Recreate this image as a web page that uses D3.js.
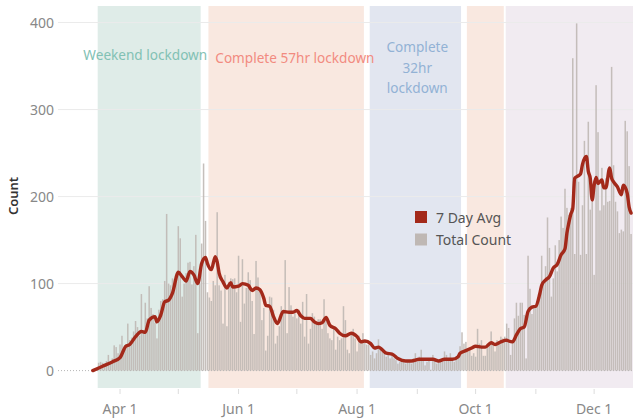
<!DOCTYPE html>
<html lang="en">
<head>
<meta charset="utf-8">
<title>Daily count</title>
<script src="https://cdn.jsdelivr.net/npm/d3@7"></script>
<style>
  body { margin: 0; background: #fff; }
  text { font-family: "Noto Sans", "Open Sans", sans-serif; }
</style>
</head>
<body>
<svg width="633" height="419"></svg>
<script>
// daily totals, first value is 2020-03-18
var firstDay = "2020-03-18";
var totalCount = [
  0,1,3,9,10,9,5,11,18,8,
  14,29,27,20,30,40,26,30,54,35,
  38,45,57,50,40,88,45,78,60,97,
  72,65,55,37,70,80,82,103,180,100,
  98,106,105,110,166,152,85,100,112,124,
  125,99,120,156,43,100,146,238,172,90,
  84,80,103,98,182,98,92,54,110,51,
  102,106,105,106,90,132,56,128,77,95,
  113,104,80,42,126,107,91,58,72,23,
  40,85,84,70,31,40,51,74,67,127,
  43,96,75,62,66,60,70,54,79,39,
  88,31,48,66,62,53,59,59,48,82,
  62,43,37,35,50,24,39,35,37,74,
  58,24,20,41,48,37,22,40,35,43,
  33,30,30,18,22,14,20,36,27,22,
  20,16,18,14,18,14,12,8,10,12,
  10,8,10,10,8,14,20,10,16,24,
  12,6,10,12,1,18,12,8,10,12,
  10,22,18,12,20,14,10,14,16,28,
  44,31,33,22,25,17,20,16,48,31,
  35,17,17,26,30,45,33,22,35,33,
  39,37,39,54,49,18,35,60,78,63,
  78,78,64,14,132,94,65,74,74,80,
  85,132,100,120,176,141,85,106,144,114,
  150,177,164,209,187,179,187,359,134,399,
  217,133,190,264,134,286,185,194,110,328,
  274,184,233,190,221,194,195,349,236,194,
  183,158,162,160,287,275,235,157
];

// 7 day average
var avgDates = [
  "3/18","3/23","3/28","4/1","4/4","4/6","4/9","4/12","4/14","4/16",
  "4/19","4/20","4/22","4/24","4/26","4/28","5/1","5/3","5/5","5/7",
  "5/9","5/11","5/13","5/15","5/16","5/18","5/20","5/21","5/22","5/24",
  "5/26","5/28","5/29","6/1","6/3","6/6","6/8","6/10","6/12","6/14",
  "6/15","6/17","6/19","6/21","6/24","6/27","6/29","7/1","7/3","7/5",
  "7/8","7/10","7/12","7/14","7/16","7/18","7/21","7/23","7/26","7/29",
  "8/1","8/3","8/5","8/8","8/10","8/12","8/16","8/19","8/22","8/26",
  "8/29","9/2","9/5","9/9","9/12","9/15","9/19","9/22","9/23","9/26",
  "9/29","10/1","10/4","10/6","10/9","10/11","10/14","10/17","10/18","10/20",
  "10/22","10/24","10/26","10/28","10/30","11/1","11/3","11/4","11/6","11/8",
  "11/10","11/12","11/14","11/16","11/17","11/18","11/19","11/20","11/21","11/23",
  "11/24","11/25","11/27","11/28","11/29","11/30","12/1","12/2","12/3","12/5",
  "12/6","12/7","12/9","12/10","12/11","12/13","12/15","12/16","12/18","12/19",
  "12/20"
];
var avgValues = [
  0,5,10,15,28,30,39,45,44,58,
  62,56,64,79,81,89,113,108,103,114,
  110,100,123,130,123,116,131,125,112,102,
  95,101,96,97,100,98,92,95,93,83,
  75,74,62,54,68,67,67,69,63,60,
  60,56,54,55,61,52,48,43,40,43,
  39,33,34,31,26,27,20,19,14,11,
  11,13,13,13,11,13,13,16,20,23,
  26,28,27,27,32,30,33,35,34,33,
  41,48,50,68,73,74,88,98,104,108,
  118,122,133,140,158,170,180,186,221,224,
  226,237,246,229,221,196,213,222,215,219,
  210,210,233,221,217,211,202,213,204,188,
  181
];

// shaded periods: first and last day, colours
var periods = [
  {from: "3/21", to: "5/12", fill: "#dfece8"},
  {from: "5/17", to: "8/4", fill: "#f9e8e0"},
  {from: "8/8", to: "9/23", fill: "#e2e6f0"},
  {from: "9/27", to: "10/15", fill: "#f9e8e0"},
  {from: "10/17", to: "12/22", fill: "#f1ebf1"}
];
var periodLabels = [
  {lines: ["Weekend lockdown"], color: "#82c1b4", at: "4/14", y: 60},
  {lines: ["Complete 57hr lockdown"], color: "#f28b80", at: "6/30", y: 63},
  {lines: ["Complete", "32hr", "lockdown"], color: "#92b2d5", at: "9/1", y: 52}
];
var yTicks = [0, 100, 200, 300, 400];
var xLabelTicks = ["4/1", "6/1", "8/1", "10/1", "12/1"];

var parse = d3.utcParse("%Y/%m/%d");
function md(s) { return parse("2020/" + s); }

var svg = d3.select("svg");
var x = d3.scaleUtc()
    .domain([new Date(Date.UTC(2020, 1, 29, 2)), new Date(Date.UTC(2020, 11, 21))])
    .range([58, 633]);
var y = d3.scaleLinear().domain([-20, 419]).range([388, 6]);
var halfDay = 12 * 3600 * 1000;

var start = parse(firstDay.replace(/-/g, "/"));
var bars = totalCount.map(function(v, i) {
  return {date: d3.utcDay.offset(start, i), value: v};
});
var avg = avgDates.map(function(s, i) { return {date: md(s), value: avgValues[i]}; });

// background periods
svg.append("g").selectAll("rect")
  .data(periods)
  .enter().append("rect")
  .attr("x", function(d) { return x(new Date(+md(d.from) - halfDay)); })
  .attr("width", function(d) { return x(new Date(+md(d.to) + halfDay)) - x(new Date(+md(d.from) - halfDay)); })
  .attr("y", 6)
  .attr("height", 382)
  .attr("fill", function(d) { return d.fill; });

// gridlines
svg.append("g").selectAll("line")
  .data(yTicks.filter(function(t) { return t > 0; }))
  .enter().append("line")
  .attr("x1", 58).attr("x2", 633)
  .attr("y1", function(d) { return y(d); })
  .attr("y2", function(d) { return y(d); })
  .attr("stroke", "#ebebeb")
  .attr("stroke-width", 1);

svg.append("line")
  .attr("x1", 58).attr("x2", 633)
  .attr("y1", y(0)).attr("y2", y(0))
  .attr("stroke", "#b5b5b5")
  .attr("stroke-dasharray", "1,2");

// labels for periods
periodLabels.forEach(function(p) {
  var t = svg.append("text")
    .attr("x", x(md(p.at)))
    .attr("y", p.y)
    .attr("text-anchor", "middle")
    .attr("font-size", "13.6px")
    .attr("fill", p.color);
  p.lines.forEach(function(line, i) {
    t.append("tspan").attr("x", x(md(p.at))).attr("dy", i ? 20.7 : 0).text(line);
  });
});

// daily bars
svg.append("g").selectAll("rect")
  .data(bars)
  .enter().append("rect")
  .attr("x", function(d) { return x(d.date) - 0.75; })
  .attr("width", 1.5)
  .attr("y", function(d) { return y(d.value); })
  .attr("height", function(d) { return y(0) - y(d.value); })
  .attr("fill", "#bfb8b4")
  .attr("opacity", 0.9);

// 7 day avg line
svg.append("path")
  .datum(avg)
  .attr("fill", "none")
  .attr("stroke", "#a3291a")
  .attr("stroke-width", 3.4)
  .attr("stroke-linejoin", "round")
  .attr("stroke-linecap", "round")
  .attr("d", d3.line()
    .curve(d3.curveMonotoneX)
    .x(function(d) { return x(d.date); })
    .y(function(d) { return y(d.value); }));

// y axis
svg.append("g").selectAll("text")
  .data(yTicks)
  .enter().append("text")
  .attr("x", 54)
  .attr("y", function(d) { return y(d) + 5; })
  .attr("text-anchor", "end")
  .attr("font-size", "14px")
  .attr("fill", "#888")
  .text(function(d) { return d; });

svg.append("text")
  .attr("transform", "translate(18,196) rotate(-90)")
  .attr("text-anchor", "middle")
  .attr("font-size", "13px")
  .attr("font-weight", 600)
  .attr("fill", "#333")
  .text("Count");

// x axis ticks every month, labels every other month
svg.append("g").selectAll("line")
  .data(d3.utcMonth.range(md("4/1"), md("12/2")))
  .enter().append("line")
  .attr("x1", function(d) { return x(d); })
  .attr("x2", function(d) { return x(d); })
  .attr("y1", 389).attr("y2", 394)
  .attr("stroke", "#ddd");

var fmt = d3.utcFormat("%b %-d");
svg.append("g").selectAll("text")
  .data(xLabelTicks.map(md))
  .enter().append("text")
  .attr("x", function(d) { return x(d); })
  .attr("y", 414)
  .attr("text-anchor", "middle")
  .attr("font-size", "14px")
  .attr("fill", "#888")
  .text(function(d) { return fmt(d); });

// legend
var legend = [{name: "7 Day Avg", color: "#a3291a"}, {name: "Total Count", color: "#bfb8b4"}];
var lg = svg.append("g").attr("transform", "translate(415,211)");
lg.selectAll("rect")
  .data(legend)
  .enter().append("rect")
  .attr("x", 0)
  .attr("y", function(d, i) { return i * 22.5; })
  .attr("width", 12).attr("height", 12)
  .attr("fill", function(d) { return d.color; });
lg.selectAll("text")
  .data(legend)
  .enter().append("text")
  .attr("x", 21)
  .attr("y", function(d, i) { return i * 22.5 + 11.5; })
  .attr("font-size", "14px")
  .attr("fill", "#555")
  .text(function(d) { return d.name; });
</script>
</body>
</html>
